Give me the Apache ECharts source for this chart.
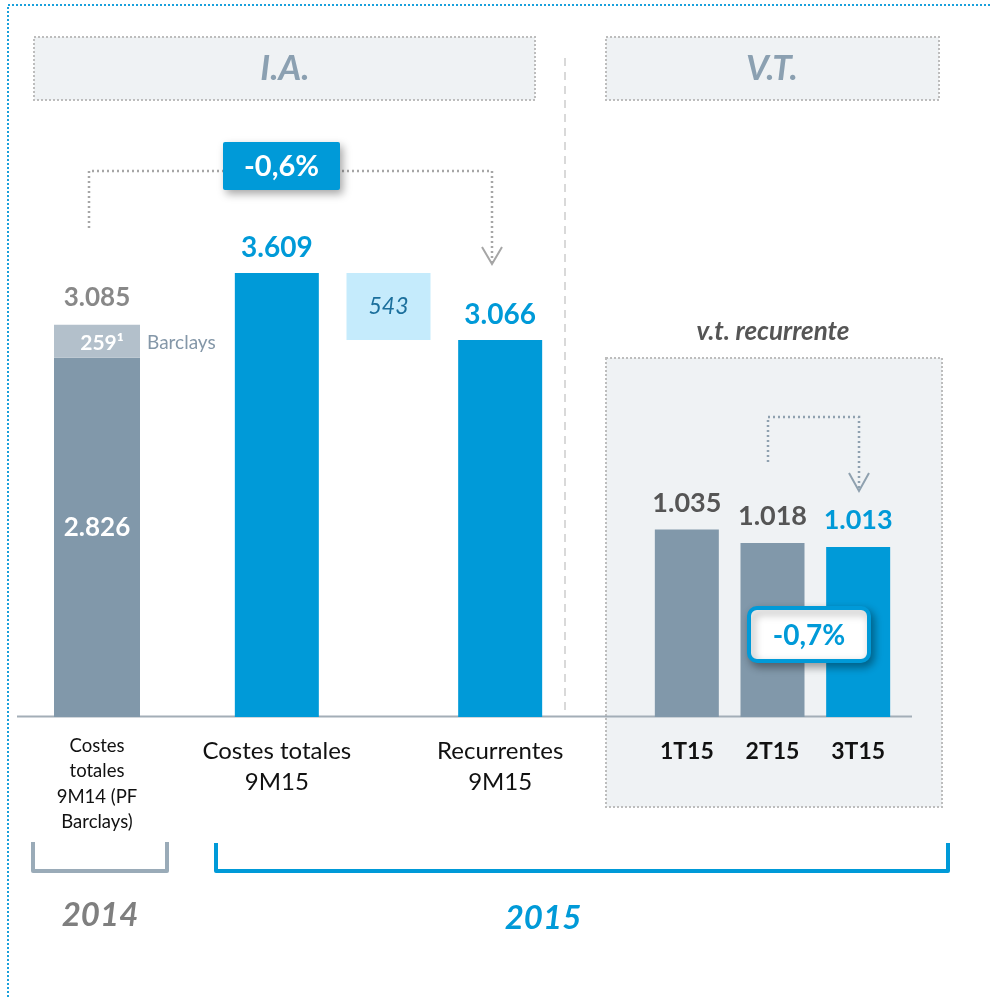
<!DOCTYPE html>
<html>
<head>
<meta charset="utf-8">
<script src="https://cdn.jsdelivr.net/npm/echarts@6/dist/echarts.min.js"></script>
<style>
html, body { margin: 0; padding: 0; background: #fff; }
#chart { width: 991px; height: 997px; }
</style>
</head>
<body>
<div id="chart"></div>
<script>
// data
var cats2014 = ['Costes\ntotales\n9M14 (PF\nBarclays)'];
var base2014 = [2826];
var barclays2014 = [259];

var cats2015 = ['Costes totales\n9M15', '', 'Recurrentes\n9M15'];
var values2015 = [3609, 543, 3066];

var catsQuarter = ['1T15', '2T15', '3T15'];
var valuesQuarter = [1035, 1018, 1013];

var FONT = 'Lato, "Open Sans", sans-serif';
var GREY = '#8198aa';
var LIGHTGREY = '#b3c0cb';
var BLUE = '#009ad8';
var PALEBLUE = '#c5ebfc';

function fmt(v) {
    return String(v).replace(/\B(?=(\d{3})+(?!\d))/g, '.');
}

function drawCostes() {
    var myChart = echarts.init(document.getElementById('chart'));

    // waterfall: the 543 block floats on top of the recurrent total
    var waterBase = values2015.map(function(v, i) {
        return i === 1 ? values2015[2] : 0;
    });

    var option = {
        animation: false,
        textStyle: { fontFamily: FONT },
        grid: [
            { left: 41, width: 112, top: 225, height: 492 },
            { left: 221, width: 335, top: 225, height: 492 },
            { left: 644, width: 257, top: 318, height: 399 }
        ],
        xAxis: [
            {
                gridIndex: 0, type: 'category', data: cats2014,
                axisLine: { show: false }, axisTick: { show: false },
                axisLabel: { margin: 16, fontSize: 18.5, lineHeight: 25.5, color: '#111', fontFamily: FONT }
            },
            {
                gridIndex: 1, type: 'category', data: cats2015,
                axisLine: { show: false }, axisTick: { show: false },
                axisLabel: { interval: 0, margin: 19, fontSize: 24, lineHeight: 31, color: '#111', fontFamily: FONT }
            },
            {
                gridIndex: 2, type: 'category', data: catsQuarter,
                axisLine: { show: false }, axisTick: { show: false },
                axisLabel: { margin: 22, fontSize: 23, lineHeight: 26, fontWeight: 'bold', color: '#111', fontFamily: FONT }
            }
        ],
        yAxis: [
            { gridIndex: 0, type: 'value', min: 0, max: 3870, show: false },
            { gridIndex: 1, type: 'value', min: 0, max: 4000, show: false },
            { gridIndex: 2, type: 'value', min: 800, max: 1300, show: false }
        ],
        series: [
            {
                name: 'Costes 2014',
                type: 'bar', xAxisIndex: 0, yAxisIndex: 0, stack: 'a',
                barWidth: 86,
                data: base2014,
                itemStyle: { color: GREY },
                label: {
                    show: true, position: 'inside', offset: [0, -10],
                    color: '#fff', fontSize: 26, fontWeight: 'bold', fontFamily: FONT,
                    formatter: function(p) { return fmt(p.value); }
                }
            },
            {
                name: 'Barclays',
                type: 'bar', xAxisIndex: 0, yAxisIndex: 0, stack: 'a',
                barWidth: 86,
                data: barclays2014,
                itemStyle: { color: LIGHTGREY },
                label: {
                    show: true, position: 'insideLeft', offset: [0, 2],
                    formatter: function(p) { return '{v|' + p.value + '\u00b9}{b|Barclays}'; },
                    rich: {
                        v: { width: 86, align: 'center', color: '#fff', fontSize: 21, fontWeight: 'bold', fontFamily: FONT },
                        b: { color: '#8497a8', fontSize: 19, fontFamily: FONT, padding: [0, 0, 0, 2] }
                    }
                }
            },
            {
                name: 'Total 2014',
                type: 'scatter', xAxisIndex: 0, yAxisIndex: 0,
                symbolSize: 1,
                itemStyle: { color: 'rgba(0,0,0,0)' },
                data: base2014.map(function(v, i) { return [i, v + barclays2014[i]]; }),
                label: {
                    show: true, position: 'top', distance: 14,
                    color: '#6a6a6a', fontSize: 26, fontWeight: 'bold', fontFamily: FONT,
                    formatter: function(p) { return fmt(p.value[1]); }
                }
            },
            {
                name: 'base',
                type: 'bar', xAxisIndex: 1, yAxisIndex: 1, stack: 'b',
                barWidth: 84,
                silent: true,
                itemStyle: { color: 'rgba(0,0,0,0)' },
                data: waterBase
            },
            {
                name: 'Costes 2015',
                type: 'bar', xAxisIndex: 1, yAxisIndex: 1, stack: 'b',
                barWidth: 84,
                data: values2015.map(function(v, i) {
                    if (i === 1) {
                        return {
                            value: v,
                            itemStyle: { color: PALEBLUE },
                            label: {
                                show: true, position: 'inside',
                                color: '#1b6f9c', fontSize: 23, fontStyle: 'italic', fontWeight: 'normal',
                                formatter: fmt(v)
                            }
                        };
                    }
                    return { value: v, itemStyle: { color: BLUE } };
                }),
                label: {
                    show: true, position: 'top', distance: 11,
                    color: BLUE, fontSize: 28, fontWeight: 'bold', fontFamily: FONT,
                    formatter: function(p) { return fmt(p.value); }
                }
            },
            {
                name: 'v.t. recurrente',
                type: 'bar', xAxisIndex: 2, yAxisIndex: 2,
                barWidth: 64,
                data: valuesQuarter.map(function(v, i) {
                    var last = i === valuesQuarter.length - 1;
                    return {
                        value: v,
                        itemStyle: { color: last ? BLUE : GREY },
                        label: { color: last ? BLUE : '#555555' }
                    };
                }),
                label: {
                    show: true, position: 'top', distance: 13,
                    fontSize: 27, fontWeight: 'bold', fontFamily: FONT,
                    formatter: function(p) { return fmt(p.value); }
                }
            }
        ],
        graphic: [
            // outer dotted frame
            { type: 'rect', z: 0, shape: { x: 8, y: 5, width: 1100, height: 1100 },
              style: { fill: 'none', stroke: '#1aa0dc', lineWidth: 2, lineDash: [2, 2] } },
            // header boxes
            { type: 'rect', z: 0, shape: { x: 34, y: 37, width: 501, height: 63 },
              style: { fill: '#eff2f4', stroke: '#bdbdbd', lineWidth: 2, lineDash: [2, 2] } },
            { type: 'text', z: 1, x: 285, y: 69,
              style: { text: 'I.A.', fill: '#8ba0b1', font: 'italic bold 35px ' + FONT, align: 'center', verticalAlign: 'middle' } },
            { type: 'rect', z: 0, shape: { x: 606, y: 37, width: 333, height: 63 },
              style: { fill: '#eff2f4', stroke: '#bdbdbd', lineWidth: 2, lineDash: [2, 2] } },
            { type: 'text', z: 1, x: 772, y: 69,
              style: { text: 'V.T.', fill: '#8ba0b1', font: 'italic bold 35px ' + FONT, align: 'center', verticalAlign: 'middle' } },
            // dashed separator
            { type: 'line', z: 0, shape: { x1: 565, y1: 58, x2: 565, y2: 712 },
              style: { stroke: '#d9d9d9', lineWidth: 2, lineDash: [8, 6] } },
            // v.t. panel
            { type: 'rect', z: 0, shape: { x: 606, y: 358, width: 336, height: 449 },
              style: { fill: '#eff2f4', stroke: '#bdbdbd', lineWidth: 2, lineDash: [2, 2] } },
            { type: 'text', z: 1, x: 773, y: 332,
              style: { text: 'v.t. recurrente', fill: '#555555', font: 'italic bold 26px ' + FONT, align: 'center', verticalAlign: 'middle' } },
            // baseline
            { type: 'line', z: 1, shape: { x1: 17, y1: 716.5, x2: 912, y2: 716.5 },
              style: { stroke: '#a3aeb7', lineWidth: 2 } },
            // I.A. connector
            { type: 'polyline', z: 1, shape: { points: [[89, 228], [89, 171], [492, 171], [492, 262]] },
              style: { fill: 'none', stroke: '#a6a6a6', lineWidth: 2.5, lineDash: [2, 3] } },
            { type: 'polyline', z: 1, shape: { points: [[482, 247], [492, 264], [502, 247]] },
              style: { fill: 'none', stroke: '#a6a6a6', lineWidth: 2 } },
            { type: 'rect', z: 10, shape: { x: 223, y: 142, width: 117, height: 48, r: 2 },
              style: { fill: BLUE, shadowBlur: 8, shadowOffsetX: 3, shadowOffsetY: 4, shadowColor: 'rgba(0,0,0,0.35)' } },
            { type: 'text', z: 11, x: 281.5, y: 167,
              style: { text: '-0,6%', fill: '#fff', font: 'bold 29px ' + FONT, align: 'center', verticalAlign: 'middle' } },
            // V.T. connector
            { type: 'polyline', z: 1, shape: { points: [[768, 462], [768, 417], [859, 417], [859, 489]] },
              style: { fill: 'none', stroke: '#8fa1af', lineWidth: 2.5, lineDash: [2, 3] } },
            { type: 'polyline', z: 1, shape: { points: [[849, 473], [859, 491], [869, 473]] },
              style: { fill: 'none', stroke: '#8fa1af', lineWidth: 2 } },
            { type: 'rect', z: 10, shape: { x: 749, y: 608, width: 120, height: 53, r: 8 },
              style: { fill: '#fff', stroke: BLUE, lineWidth: 4, shadowBlur: 8, shadowOffsetX: 3, shadowOffsetY: 4, shadowColor: 'rgba(0,0,0,0.35)' } },
            { type: 'text', z: 11, x: 809, y: 636,
              style: { text: '-0,7%', fill: BLUE, font: 'bold 28px ' + FONT, align: 'center', verticalAlign: 'middle' } },
            // year brackets
            { type: 'polyline', z: 1, shape: { points: [[33, 842], [33, 871], [167, 871], [167, 842]] },
              style: { fill: 'none', stroke: '#9aabb8', lineWidth: 4, lineJoin: 'round' } },
            { type: 'polyline', z: 1, shape: { points: [[216, 843], [216, 871], [948, 871], [948, 843]] },
              style: { fill: 'none', stroke: BLUE, lineWidth: 4, lineJoin: 'round' } },
            { type: 'text', z: 1, x: 100, y: 915,
              style: { text: '2014', fill: '#7f7f7f', font: 'italic bold 33px ' + FONT, align: 'center', verticalAlign: 'middle' } },
            { type: 'text', z: 1, x: 543, y: 918,
              style: { text: '2015', fill: BLUE, font: 'italic bold 33px ' + FONT, align: 'center', verticalAlign: 'middle' } }
        ]
    };

    myChart.setOption(option);
}

drawCostes();
</script>
</body>
</html>
